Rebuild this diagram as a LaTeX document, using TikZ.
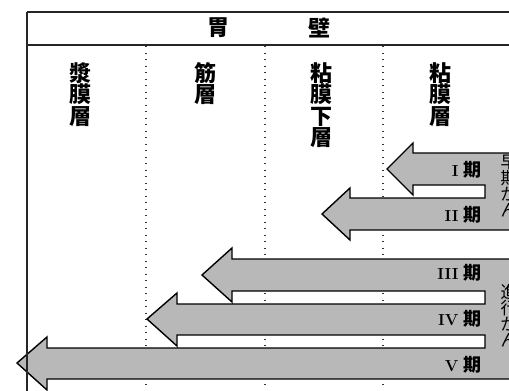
\documentclass[tikz,border=0pt]{standalone}
\usepackage{fontspec}
\newfontfamily\jp{Noto Sans CJK JP}
\newcommand{\stagekanji}{{\jp\bfseries\fontsize{18}{18}\selectfont 期}}
\begin{document}
\begin{tikzpicture}[x=1pt,y=-1pt,
  grp/.style={fill=black!28, draw=black, line width=1.4pt, line join=miter},
  frameline/.style={draw=black!85, line width=1.6pt},
  sep/.style={draw=black!80, line width=1.3pt, dash pattern=on 1.3pt off 5.2pt},
  collab/.style={font=\jp\bfseries\fontsize{22}{21.5}\selectfont, align=center, anchor=north, inner sep=0pt},
  title/.style={font=\jp\bfseries\fontsize{22}{22}\selectfont, inner sep=0pt},
  stage/.style={font=\fontsize{16}{16}\selectfont, anchor=east, inner sep=0pt},
  side/.style={font=\jp\fontsize{17}{16}\selectfont, align=center, anchor=north, inner sep=0pt}]
\useasboundingbox (0,0) rectangle (509,391);
\clip (0,0) rectangle (509,391);
% frame (top and header)
\coordinate (tl) at (27,12);
\coordinate (tr) at (530,12);
\coordinate (hl) at (27,45);
\coordinate (hr) at (530,45);
\coordinate (bl) at (27,400);
\draw[frameline] (tl) -- (tr);
\draw[frameline] (hl) -- (hr);
% column separators
\foreach \x/\n in {146/a,265/b,383/c}{
  \coordinate (s\n t) at (\x,46);
  \coordinate (s\n b) at (\x,400);
  \draw[sep] (s\n t) -- (s\n b);
}
% title
\node[title] (t1) at (218,28) {胃};
\node[title] (t2) at (319,28) {壁};
% column labels
\node[collab] (c1) at (80,62) {漿\\膜\\層};
\node[collab] (c2) at (205,62) {筋\\層};
\node[collab] (c3) at (321,62) {粘\\膜\\下\\層};
\node[collab] (c4) at (440,62) {粘\\膜\\層};
% early cancer arrows
\draw[grp] (530,153) -- (413,153) -- (413,143) -- (387,169) -- (413,195) -- (413,185)
  -- (485,185) -- (485,198) -- (350,198) -- (350,188) -- (322,214) -- (350,240)
  -- (350,230) -- (530,230) -- cycle;
% advanced cancer arrows
\draw[grp] (530,259) -- (232,259) -- (232,248) -- (202,275) -- (232,302) -- (232,291)
  -- (485,291) -- (485,304) -- (177,304) -- (177,293) -- (147,319) -- (177,346)
  -- (177,335) -- (485,335) -- (485,348) -- (47,348) -- (47,337) -- (17,363)
  -- (47,390) -- (47,379) -- (530,379) -- cycle;
% left frame line on top
\draw[frameline] (tl) -- (bl);
% stage labels
\node[stage] (p1) at (482,170) {\textbf{I}\,\,\stagekanji};
\node[stage] (p2) at (482,215) {\textbf{II}\,\,\stagekanji};
\node[stage] (p3) at (482,273) {\textbf{III}\,\,\stagekanji};
\node[stage] (p4) at (482,319) {\textbf{IV}\,\,\stagekanji};
\node[stage] (p5) at (482,365) {\textbf{V}\,\,\stagekanji};
% side labels
\node[side] (e) at (509,155) {早\\期\\が\\ん};
\node[side] (d) at (509,284) {進\\行\\が\\ん};
\end{tikzpicture}
\end{document}
